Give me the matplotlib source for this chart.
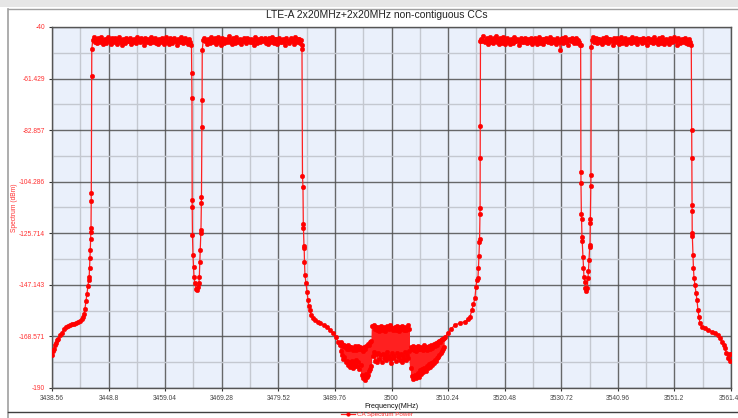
import matplotlib
matplotlib.use('Agg')
import matplotlib.pyplot as plt
from matplotlib.lines import Line2D
from matplotlib.patches import Rectangle
import numpy as np

plt.rcParams['font.family'] = ['Liberation Sans', 'DejaVu Sans']

TITLE = 'LTE-A 2x20MHz+2x20MHz non-contiguous CCs'
X_LABEL = 'Frequency(MHz)'
Y_LABEL = 'Spectrum (dBm)'
SERIES_NAME = 'CA Spectrum Power'

x_ticks = ['3438.56', '3448.8', '3459.04', '3469.28', '3479.52', '3489.76', '3500',
           '3510.24', '3520.48', '3530.72', '3540.96', '3551.2', '3561.44']
y_ticks = ['-40', '-61.429', '-82.857', '-104.286', '-125.714', '-147.143', '-168.571', '-190']

# --- skirts: (frequency MHz, level dBm) ---
left_edge_f = [3438.56, 3438.74, 3438.92, 3439.10, 3439.28, 3439.47, 3439.65, 3440.01, 3440.37,
               3440.73, 3441.09, 3441.46, 3441.82, 3442.18, 3442.54, 3442.90, 3443.27, 3443.63,
               3443.99, 3444.17, 3444.35, 3444.53, 3444.71, 3444.89, 3445.08, 3445.20, 3445.29,
               3445.36, 3445.44, 3445.49, 3445.55, 3445.58, 3445.62, 3445.65, 3445.67, 3445.73]
left_edge_db = [-176.3, -174.5, -173.8, -172.0, -171.5, -170.2, -169.5, -168.0, -167.0,
                -165.5, -164.6, -164.2, -163.8, -163.6, -163.2, -163.0, -162.6, -162.0,
                -161.4, -160.6, -159.2, -157.0, -154.0, -151.0, -147.5, -145.0, -143.9,
                -140.0, -136.0, -132.6, -128.0, -125.2, -123.5, -112.3, -109.0, -60.4]

c1_top_db = [-49.2, -45.2, -44.1, -46.3, -45.0, -46.8, -44.6, -45.7, -46.1, -44.3,
             -45.9, -47.2, -45.4, -44.8, -46.5, -45.1, -44.0, -46.0, -45.6, -47.0,
             -44.7, -45.8, -46.4, -44.5, -45.3, -46.9, -45.0, -44.2, -46.2, -45.5,
             -47.4, -44.9, -45.7, -46.6, -44.4, -45.2, -46.0, -45.8, -44.6, -47.1,
             -45.4, -46.3, -44.8, -45.9, -46.7, -44.3, -45.6, -45.1, -46.4, -44.7,
             -46.0, -45.3, -47.3, -44.5, -45.8, -46.2, -44.9, -45.5, -46.8, -44.2,
             -45.7, -46.1, -45.0, -44.6, -46.5, -45.4, -47.0, -44.8, -45.9, -46.3,
             -44.4, -45.6, -46.9, -45.2, -44.0, -46.2, -45.7, -47.2, -44.7, -45.3,
             -46.6, -45.0, -44.5, -46.0, -45.8, -47.5, -44.9, -45.4, -46.4, -44.3,
             -45.9, -46.7, -45.1, -44.6, -46.3, -45.5, -47.1, -44.8, -46.1, -47.5]

gap1_f = [3463.84, 3463.89, 3463.91, 3463.93, 3463.98, 3464.07, 3464.17, 3464.26, 3464.44,
          3464.62, 3464.80, 3464.98, 3465.16, 3465.22, 3465.31, 3465.38, 3465.49, 3465.52,
          3465.60, 3465.61, 3465.70, 3465.72]
gap1_db = [-59.2, -69.6, -111.9, -114.6, -126.4, -134.7, -139.6, -143.7, -146.5,
           -148.9, -149.3, -148.0, -146.4, -143.9, -137.5, -132.6, -125.7, -124.3,
           -113.0, -110.6, -81.4, -70.3]

c2_top_db = [-49.5, -45.6, -44.4, -46.0, -45.3, -47.1, -44.9, -45.5, -46.6, -44.2,
             -45.8, -46.3, -45.1, -44.7, -46.9, -45.4, -44.3, -46.2, -45.9, -47.3,
             -44.6, -45.2, -46.5, -44.8, -45.7, -46.1, -45.0, -43.9, -46.4, -45.6,
             -47.0, -44.5, -45.9, -46.8, -44.1, -45.3, -46.2, -45.7, -44.9, -47.2,
             -45.5, -46.0, -44.6, -45.8, -46.6, -44.4, -45.1, -45.9, -46.3, -44.8,
             -46.1, -45.4, -47.4, -44.3, -45.6, -46.7, -45.0, -45.8, -46.4, -44.5,
             -45.2, -46.0, -45.5, -44.7, -46.8, -45.3, -46.9, -44.6, -45.7, -46.2,
             -44.2, -45.9, -46.5, -45.1, -44.8, -47.0, -45.6, -44.4, -46.3, -45.4,
             -46.1, -44.9, -45.7, -47.3, -44.5, -45.8, -46.6, -45.2, -44.7, -46.0,
             -45.5, -47.1, -44.3, -45.9, -46.4, -45.0, -44.8, -46.7, -45.6, -47.6]

gap2_f = [3483.80, 3483.89, 3483.98, 3484.04, 3484.07, 3484.16, 3484.20, 3484.25, 3484.34,
          3484.52, 3484.71, 3484.89, 3485.07, 3485.25, 3485.43, 3485.79, 3486.15, 3486.70,
          3487.06, 3487.78, 3488.32, 3488.87, 3489.41, 3489.95, 3490.32, 3490.60]
gap2_db = [-49.3, -101.9, -106.3, -121.8, -123.6, -131.0, -131.8, -137.5, -143.0,
           -146.5, -150.0, -153.4, -156.0, -157.6, -159.6, -160.8, -161.7, -162.5,
           -163.1, -163.8, -164.5, -165.8, -167.3, -169.0, -170.7, -172.0]

# middle noise floor, three blocks
mid1_db = [-171.0, -174.5, -171.8, -176.2, -172.4, -178.0, -172.0, -177.3, -173.1, -179.2,
           -172.6, -178.6, -173.8, -180.4, -172.2, -179.0, -174.0, -181.2, -173.0, -180.0,
           -172.8, -178.8, -174.4, -181.6, -173.4, -179.6, -172.6, -180.8, -174.2, -178.4,
           -173.0, -181.0, -172.4, -179.4, -173.6, -182.0, -172.8, -180.6, -174.0, -184.6,
           -173.2, -186.0, -174.6, -185.2, -172.8, -186.6, -173.8, -184.0, -172.4, -185.6,
           -171.6, -184.4, -172.2, -183.0, -171.0, -182.2, -170.4, -181.0]
mid2_db = [-164.2, -176.8, -163.9, -175.2, -165.4, -178.6, -164.6, -176.0, -165.8, -179.4,
           -164.8, -175.4, -166.2, -177.8, -165.0, -176.4, -164.4, -179.0, -166.0, -175.8,
           -165.2, -177.6, -164.7, -176.2, -166.4, -178.4, -165.1, -175.0, -164.3, -177.2,
           -165.6, -176.6, -163.8, -178.0, -165.0, -179.6, -164.9, -175.6, -166.1, -177.4,
           -165.3, -176.9, -164.5, -178.8, -165.9, -175.3, -164.1, -177.0, -165.7, -176.3,
           -166.3, -178.2, -164.8, -175.7, -165.5, -179.2, -164.2, -176.7, -165.8, -177.9,
           -164.6, -175.1, -166.0, -178.5, -165.2, -176.1, -164.0, -177.5, -165.4, -174.6]
mid3_db = [-181.5, -172.8, -185.0, -173.6, -186.2, -172.4, -185.6, -174.2, -184.8, -173.0,
           -186.0, -174.6, -185.2, -172.6, -183.8, -173.8, -185.4, -174.0, -182.6, -172.9,
           -184.2, -173.4, -182.0, -174.4, -183.4, -172.2, -181.6, -173.6, -182.8, -172.8,
           -180.8, -174.2, -181.8, -173.0, -180.2, -172.4, -181.2, -173.8, -179.6, -172.0,
           -180.4, -173.2, -179.0, -171.8, -179.8, -172.6, -178.4, -171.4, -178.8, -172.0,
           -177.6, -171.0, -177.0, -170.6, -176.4, -170.8, -175.6, -170.2, -174.8, -169.8,
           -174.0, -169.6, -172.8, -169.2]

rise3_f = [3509.68, 3510.22, 3510.76, 3511.49, 3512.39, 3513.30, 3513.84, 3514.20, 3514.56,
           3514.83, 3515.10, 3515.28, 3515.47, 3515.65, 3515.74, 3515.83, 3515.92, 3515.94,
           3516.01, 3516.03, 3516.05, 3516.07]
rise3_db = [-168.7, -167.3, -165.5, -163.8, -163.0, -162.4, -161.3, -160.3, -157.6,
            -155.0, -152.7, -147.9, -145.1, -144.1, -140.2, -135.1, -129.2, -128.1,
            -117.7, -115.2, -94.4, -81.1]

c3_top_db = [-46.0, -44.8, -45.9, -43.8, -46.4, -45.2, -44.5, -47.0, -45.6, -44.1,
             -46.2, -45.3, -46.8, -44.6, -45.7, -43.9, -46.1, -45.0, -47.2, -44.7,
             -45.5, -46.5, -44.2, -45.8, -46.9, -45.1, -44.4, -46.3, -45.4, -47.1,
             -44.9, -45.6, -46.6, -44.3, -45.9, -46.0, -44.8, -45.2, -47.3, -45.7,
             -44.5, -46.4, -45.0, -46.2, -44.6, -45.3, -46.7, -44.9, -45.8, -46.1,
             -44.4, -47.0, -45.5, -46.3, -44.7, -45.1, -46.9, -45.6, -44.2, -46.5,
             -45.4, -44.9, -47.2, -45.0, -46.0, -44.6, -45.8, -46.4, -45.2, -44.3,
             -46.6, -45.7, -44.8, -46.1, -45.3, -47.1, -44.5, -45.9, -46.2, -49.6,
             -45.0, -44.7, -46.8, -45.4, -44.1, -46.3, -45.6, -47.3, -44.9, -45.2,
             -46.0, -44.6, -45.8, -46.5, -45.1, -44.4, -46.7, -45.5, -46.2, -47.5]

gap3_f = [3534.23, 3534.27, 3534.29, 3534.36, 3534.40, 3534.47, 3534.51, 3534.65, 3534.74,
          3534.83, 3535.01, 3535.10, 3535.28, 3535.43, 3535.55, 3535.65, 3535.74, 3535.86,
          3535.92, 3535.97, 3535.99, 3536.04, 3536.10]
gap3_db = [-47.5, -100.4, -104.7, -117.7, -119.8, -127.1, -128.8, -135.4, -140.0,
           -143.7, -145.8, -148.6, -149.5, -148.5, -144.4, -141.2, -136.8, -131.5,
           -130.6, -121.6, -119.8, -106.0, -101.5]

c4_top_db = [-48.2, -45.4, -44.3, -46.1, -45.7, -44.6, -46.8, -45.0, -44.9, -46.4,
             -45.3, -47.1, -44.5, -45.8, -46.2, -44.0, -45.6, -46.7, -45.1, -44.8,
             -46.0, -45.5, -47.3, -44.4, -45.9, -46.3, -44.7, -45.2, -46.9, -45.0,
             -44.2, -46.5, -45.7, -44.6, -47.0, -45.4, -46.1, -44.9, -45.8, -46.6,
             -44.3, -45.3, -46.2, -45.9, -44.5, -47.2, -45.6, -44.8, -46.0, -45.1,
             -46.8, -44.4, -45.7, -46.4, -45.0, -47.4, -44.7, -45.5, -46.3, -44.9,
             -45.8, -46.6, -44.2, -45.4, -46.1, -45.2, -47.0, -44.6, -45.9, -46.5,
             -44.1, -45.6, -46.9, -45.3, -44.8, -46.2, -45.7, -47.1, -44.5, -45.0,
             -46.4, -45.9, -44.3, -46.0, -45.5, -47.3, -44.7, -45.2, -46.7, -45.8,
             -44.9, -46.3, -45.1, -44.6, -46.8, -45.4, -47.2, -45.0, -46.1, -47.6]

right_edge_f = [3554.32, 3554.34, 3554.37, 3554.39, 3554.42, 3554.44, 3554.55, 3554.64,
                3554.74, 3554.92, 3555.10, 3555.28, 3555.46, 3555.64, 3555.82, 3556.19,
                3556.73, 3557.27, 3558.00, 3558.54, 3559.08, 3559.44, 3559.80, 3560.17,
                3560.35, 3560.62, 3560.89, 3561.07, 3561.25, 3561.43]
right_edge_db = [-82.8, -94.6, -114.0, -116.3, -125.4, -126.8, -134.7, -140.0,
                 -144.1, -147.2, -150.5, -153.4, -157.6, -160.5, -163.1, -164.5,
                 -165.2, -165.8, -166.6, -167.2, -168.0, -169.2, -170.7, -172.3,
                 -173.5, -175.5, -177.7, -176.0, -178.8, -176.0]

# frequency spans of the uniformly sampled blocks
c1_span = (3445.76, 3463.80)
c2_span = (3465.75, 3483.72)
mid1_span = (3490.80, 3496.35)
mid2_span = (3496.55, 3503.25)
mid3_span = (3503.45, 3509.55)
c3_span = (3516.10, 3534.20)
c4_span = (3536.13, 3554.25)


def grid_of(span, levels):
    return list(np.linspace(span[0], span[1], len(levels)))


freq = (left_edge_f + grid_of(c1_span, c1_top_db) + gap1_f + grid_of(c2_span, c2_top_db)
        + gap2_f + grid_of(mid1_span, mid1_db) + grid_of(mid2_span, mid2_db)
        + grid_of(mid3_span, mid3_db) + rise3_f + grid_of(c3_span, c3_top_db)
        + gap3_f + grid_of(c4_span, c4_top_db) + right_edge_f)
level = (left_edge_db + c1_top_db + gap1_db + c2_top_db + gap2_db + mid1_db + mid2_db
         + mid3_db + rise3_db + c3_top_db + gap3_db + c4_top_db + right_edge_db)

fig = plt.figure(figsize=(7.38, 4.18), dpi=100)

# window frame decoration
fig.patches.append(Rectangle((0, 1 - 7 / 418), 1, 7 / 418, transform=fig.transFigure,
                             facecolor='#e6e6e6', edgecolor='none'))
fig.lines.append(Line2D([8 / 738, 1], [1 - 8.5 / 418] * 2, transform=fig.transFigure,
                        color='#a0a0a0', lw=1))
fig.lines.append(Line2D([8 / 738] * 2, [0, 1 - 8.5 / 418], transform=fig.transFigure,
                        color='#a0a0a0', lw=1.2))
fig.lines.append(Line2D([8 / 738, 1], [1 - 411.5 / 418] * 2, transform=fig.transFigure,
                        color='#404040', lw=1))

ax = fig.add_axes([52 / 738, 1 - 388 / 418, 679 / 738, 361 / 418])
ax.set_facecolor('#eaf0fb')

line, = ax.plot(freq, level, color='#ff2020', lw=0.9, marker='o', ms=3.3,
                mfc='red', mec='red', mew=0.3, label=SERIES_NAME, zorder=3)

xt = [float(t) for t in x_ticks]
yt = [float(t) for t in y_ticks]
ax.set_xlim(xt[0], xt[-1])
ax.set_ylim(yt[-1], yt[0])
ax.set_xticks(xt)
ax.set_xticklabels(x_ticks, fontsize=4.8, color='#444444')
ax.set_yticks(yt)
ax.set_yticklabels(y_ticks, fontsize=4.8, color='#ff3030')
ax.set_xticks([(a + b) / 2 for a, b in zip(xt[:-1], xt[1:])], minor=True)
ax.set_yticks([(a + b) / 2 for a, b in zip(yt[:-1], yt[1:])], minor=True)
ax.tick_params(axis='both', which='major', length=2, width=0.8, color='#333333', pad=3)
ax.tick_params(axis='both', which='minor', length=0)
ax.grid(True, which='major', color='#505050', lw=1.0, alpha=0.85, zorder=0)
ax.grid(True, which='minor', color='#c4c8d0', lw=1.0, zorder=0)
ax.set_axisbelow(True)
for s in ax.spines.values():
    s.set_color('#555555')
    s.set_linewidth(1)

ax.set_xlabel(X_LABEL, fontsize=5.2, color='#111111', labelpad=1)
ax.set_ylabel(Y_LABEL, fontsize=4.8, color='#ff3030', labelpad=1)

fig.text(377 / 738, 1 - 15 / 418, TITLE, ha='center', va='center', fontsize=7.5,
         color='#222222')

leg = fig.legend(handles=[line], loc='center', bbox_to_anchor=(377 / 738, 1 - 414 / 418),
                 frameon=False, fontsize=4.5, handlelength=2.2, handletextpad=0.4,
                 borderpad=0, markerscale=0.8)
for t in leg.get_texts():
    t.set_color('#ff3030')

fig.savefig('out.png', dpi=100)
